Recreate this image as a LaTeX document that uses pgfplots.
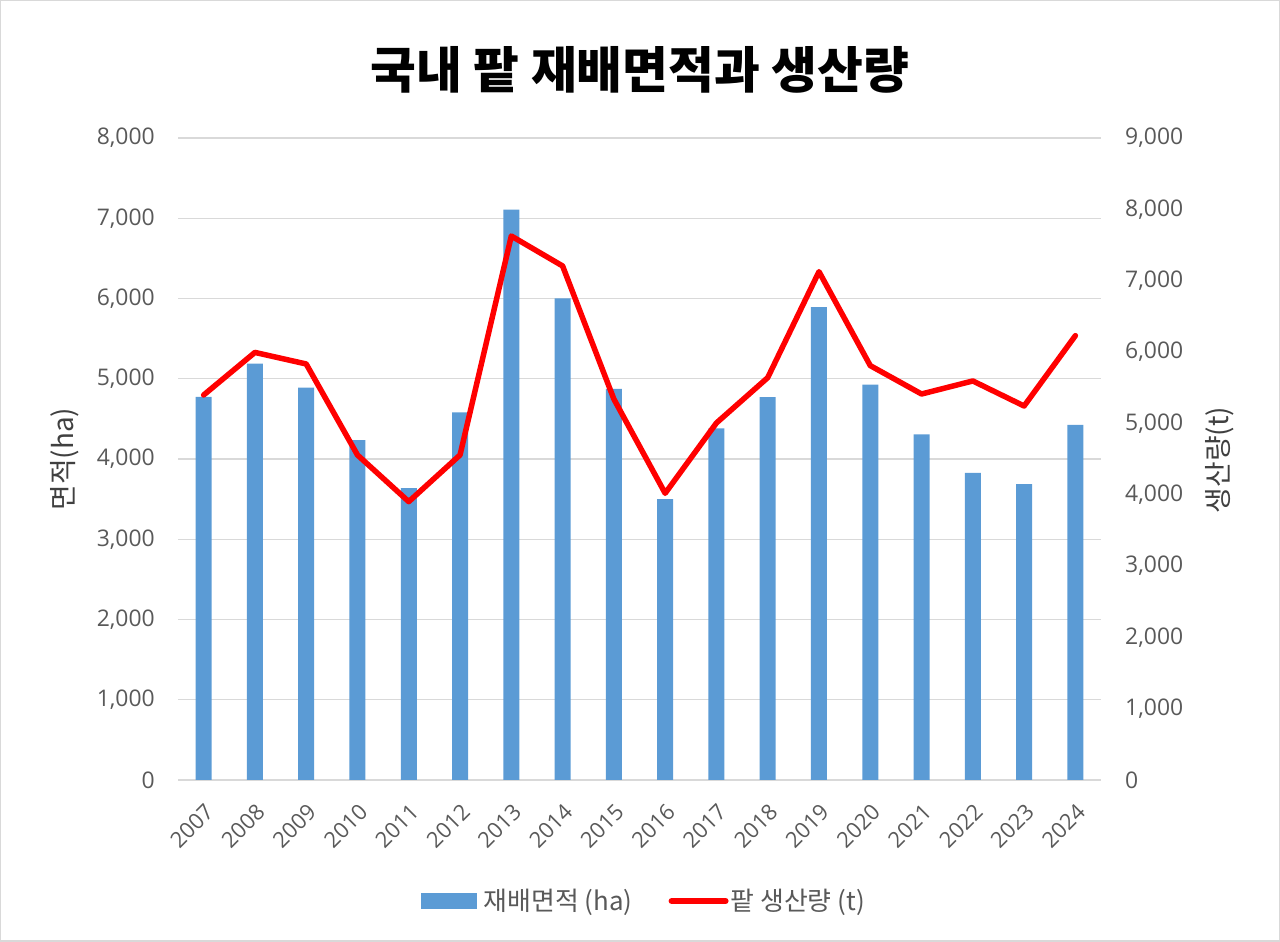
\documentclass[border=0pt]{standalone}
\usepackage{fontspec}
\usepackage{pgfplots}
\pgfplotsset{compat=1.18}
\setmainfont{Open Sans}
\newfontfamily\kr{Noto Sans CJK KR}
\definecolor{barblue}{HTML}{5B9BD5}
\definecolor{gridgray}{HTML}{D9D9D9}
\definecolor{txt}{HTML}{595959}
\definecolor{ttl}{HTML}{404040}
\begin{document}
\begin{tikzpicture}[x=1bp,y=1bp]
\draw[gridgray, line width=1.5bp] (0.75,0.75) rectangle (1279.25,941.25);
\begin{axis}[
  at={(178bp,162bp)}, anchor=south west, scale only axis,
  width=923bp, height=642bp,
  xmin=2006.5, xmax=2024.5, ymin=0, ymax=8000,
  xtick={2007,...,2024}, ytick={0,1000,...,8000},
  axis line style={draw=none}, major tick length=0pt,
  ymajorgrids, grid style={gridgray, line width=1.3bp},
  /pgf/number format/assume math mode=true,
  scaled y ticks=false,
  y tick label style={/pgf/number format/1000 sep={,}, font=\fontsize{23}{27}\selectfont, color=txt, inner sep=0pt, anchor=east, xshift=-23bp},
  x tick label style={/pgf/number format/1000 sep={}, font=\fontsize{22}{26}\selectfont, color=txt, inner sep=0pt, xshift=6bp, yshift=-28bp, rotate=45, anchor=east},
  ybar, bar width=16bp,
]
\addplot[fill=barblue, draw=none] coordinates {
(2007,4775) (2008,5187) (2009,4890) (2010,4235) (2011,3636) (2012,4580)
(2013,7107) (2014,6000) (2015,4875) (2016,3500) (2017,4380) (2018,4770)
(2019,5892) (2020,4928) (2021,4307) (2022,3828) (2023,3686) (2024,4424)};
\end{axis}
\begin{axis}[
  at={(178bp,162bp)}, anchor=south west, scale only axis,
  width=923bp, height=642bp,
  xmin=2006.5, xmax=2024.5, ymin=0, ymax=9000,
  ytick={0,1000,...,9000}, xtick=\empty,
  axis line style={draw=none}, major tick length=0pt,
  yticklabel pos=right,
  /pgf/number format/assume math mode=true,
  scaled y ticks=false,
  y tick label style={/pgf/number format/1000 sep={,}, font=\fontsize{23}{27}\selectfont, color=txt, inner sep=0pt, anchor=west, xshift=24bp},
  legend columns=2,
  legend style={at={(0.5049,-0.1885)}, anchor=center, draw=none, fill=none,
    font=\kr\fontsize{26}{30}\selectfont, text=txt,
    /tikz/every even column/.append style={column sep=34bp}},
]
\addlegendimage{legend image code/.code={\fill[barblue] (0bp,-7.5bp) rectangle (55bp,7.5bp); \path (60bp,0bp);}}
\addlegendentry{재배면적 (ha)}
\addplot[red, line width=5.5bp, line join=round, line cap=round,
  legend image code/.code={\draw[red, line width=6bp, line cap=round] (3bp,0bp) -- (57bp,0bp);}] coordinates {
(2007,5397) (2008,5994) (2009,5832) (2010,4556) (2011,3902) (2012,4556)
(2013,7626) (2014,7206) (2015,5340) (2016,4019) (2017,5005) (2018,5640)
(2019,7126) (2020,5809) (2021,5411) (2022,5594) (2023,5243) (2024,6229)};
\addlegendentry{팥 생산량 (t)}
\end{axis}
\node[font=\kr\bfseries\fontsize{50}{56}\selectfont, text=black] at (640,872) {국내 팥 재배면적과 생산량};
\node[font=\kr\fontsize{28}{32}\selectfont, text=ttl, rotate=90] at (65,483) {면적(ha)};
\node[font=\kr\fontsize{28}{32}\selectfont, text=ttl, rotate=90] at (1220,482) {생산량(t)};
\end{tikzpicture}
\end{document}
